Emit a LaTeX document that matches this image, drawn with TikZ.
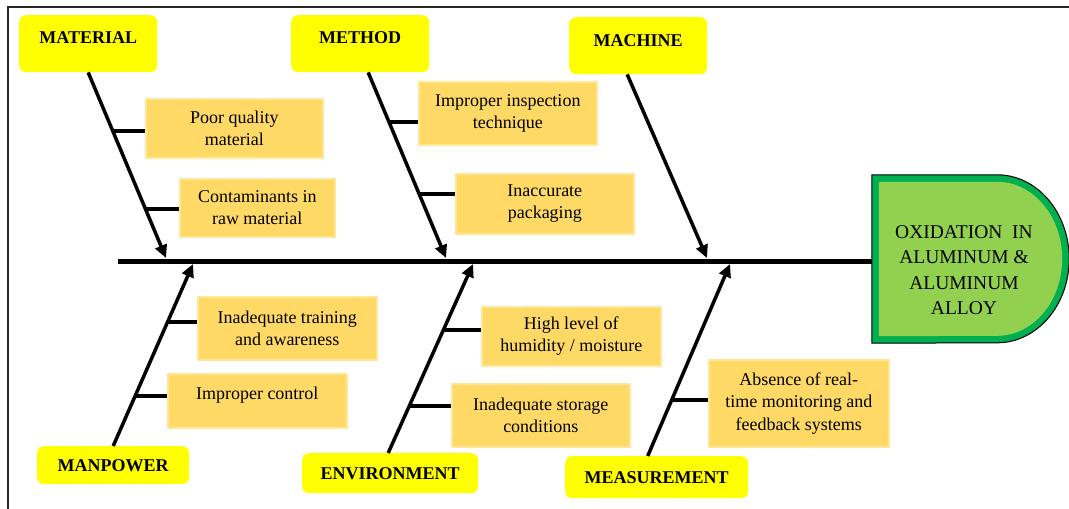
\documentclass[tikz,border=0pt]{standalone}
\usepackage{fontspec}
\setmainfont{LiberationSerif}[Extension=.ttf, UprightFont=*-Regular, BoldFont=*-Bold, ItalicFont=*-Italic, BoldItalicFont=*-BoldItalic]
\usetikzlibrary{arrows.meta}
\usetikzlibrary{calc}
\definecolor{catyellow}{HTML}{FFFF00}
\definecolor{causefill}{HTML}{FFD966}
\definecolor{causeline}{HTML}{FFE699}
\definecolor{headfill}{HTML}{92D050}
\definecolor{headline}{HTML}{00B050}

\begin{document}
\begin{tikzpicture}[x=1pt, y=-1pt,
        cat/.style={fill=catyellow, rounded corners=7pt, anchor=north west, inner sep=0pt, font=\fontsize{18}{22}\selectfont\bfseries},
        cause/.style={fill=causefill, draw=causeline, line width=1.5pt, anchor=north west, inner sep=0pt, align=center, font=\fontsize{18}{22.5}\selectfont},
        bone/.style={line width=3.5pt, -{Triangle[length=13pt, width=12pt]}},
        twig/.style={line width=4pt}]
            \useasboundingbox (0,0) rectangle (1069,509);
            \draw [line width=1.5pt, black!85] (8,509) -- (8,7) -- (1069,7);

            \node [cat, minimum width=138pt, text height=28pt, text depth=29pt] (material) at (19,15) {MATERIAL};
            \node [cat, minimum width=138pt, text height=28pt, text depth=29pt] (method) at (291,15) {METHOD};
            \node [cat, minimum width=138pt, text height=29.5pt, text depth=27.5pt] (machine) at (569,17) {MACHINE};
            \node [cat, minimum width=152pt, minimum height=38pt] (manpower) at (37,446) {MANPOWER};
            \node [cat, minimum width=176pt, minimum height=40pt] (environment) at (302,453) {ENVIRONMENT};
            \node [cat, minimum width=183pt, minimum height=42pt] (measurement) at (565,456) {MEASUREMENT};

            \node [cause, minimum width=177pt, minimum height=59pt] (poor) at (145,98) {Poor quality\\material};
            \node [cause, minimum width=155pt, minimum height=58pt] (contam) at (179,178) {Contaminants in\\raw material};
            \node [cause, minimum width=178pt, minimum height=63pt] (inspect) at (418,81) {Improper inspection\\technique};
            \node [cause, minimum width=178pt, minimum height=60pt] (packing) at (455,173) {Inaccurate\\packaging};
            \node [cause, minimum width=179pt, minimum height=63pt] (training) at (197,296) {Inadequate training\\and awareness};
            \node [cause, minimum width=179pt, minimum height=54pt, text depth=14pt] (control) at (167,373) {Improper control};
            \node [cause, minimum width=179pt, minimum height=59pt] (humid) at (481,306) {High level of\\humidity / moisture};
            \node [cause, minimum width=178pt, minimum height=63pt] (storage) at (451,383) {Inadequate storage\\conditions};
            \node [cause, minimum width=180pt, minimum height=87pt] (monitor) at (708,359) {Absence of real-\\time monitoring and\\feedback systems};

            \node [minimum width=125pt, minimum height=168pt, inner sep=0pt] (head) at (934.5,259) {};
            \draw [line width=1pt, fill=headline] (head.north west) -- (head.north east)
                arc [start angle=-90, end angle=90, x radius=72, y radius=84] -- (head.south west) -- cycle;
            \fill [headfill] ([shift={(7,7)}]head.north west) -- ([shift={(0,7)}]head.north east)
                arc [start angle=-90, end angle=90, x radius=65, y radius=77] -- ([shift={(7,-7)}]head.south west) -- cycle;
            \node [align=center, font=\fontsize{19.5}{25.3}\selectfont] (effect) at (964,270) {OXIDATION~~IN\\ALUMINUM \&\\ALUMINUM\\ALLOY};

            \coordinate (tail) at (118,261);
            \draw [line width=5pt] (tail) -- (tail -| head.west);

            \coordinate (matE) at (166,258);
            \coordinate (metE) at (446,258);
            \coordinate (macE) at (707,258);
            \coordinate (manE) at (193,264);
            \coordinate (envE) at (473,264);
            \coordinate (meaE) at (730,264);

            \draw [bone] (material.south) -- (matE);
            \draw [bone] ([xshift=8pt]method.south) -- (metE);
            \draw [bone] ([xshift=-11pt]machine.south) -- (macE);
            \draw [bone] (manpower.north) -- (manE);
            \draw [bone] ([xshift=-2pt]environment.north) -- (envE);
            \draw [bone] ([xshift=-9pt]measurement.north) -- (meaE);

            \coordinate (m1) at ($(material.south)!0.317!(matE)$);
            \coordinate (m2) at ($(material.south)!0.737!(matE)$);
            \coordinate (t1) at ($([xshift=8pt]method.south)!0.265!(metE)$);
            \coordinate (t2) at ($([xshift=8pt]method.south)!0.654!(metE)$);
            \coordinate (p1) at ($(manpower.north)!0.679!(manE)$);
            \coordinate (p2) at ($(manpower.north)!0.277!(manE)$);
            \coordinate (e1) at ($([xshift=-2pt]environment.north)!0.651!(envE)$);
            \coordinate (e2) at ($([xshift=-2pt]environment.north)!0.249!(envE)$);
            \coordinate (s1) at ($([xshift=-9pt]measurement.north)!0.293!(meaE)$);

            \draw [twig] (m1) -- (m1 -| poor.west);
            \draw [twig] (m2) -- (m2 -| contam.west);
            \draw [twig] (t1) -- (t1 -| inspect.west);
            \draw [twig] (t2) -- (t2 -| packing.west);
            \draw [twig] (p1) -- (p1 -| training.west);
            \draw [twig] (p2) -- (p2 -| control.west);
            \draw [twig] (e1) -- (e1 -| humid.west);
            \draw [twig] (e2) -- (e2 -| storage.west);
            \draw [twig] (s1) -- (s1 -| monitor.west);
        \end{tikzpicture}
\end{document}
